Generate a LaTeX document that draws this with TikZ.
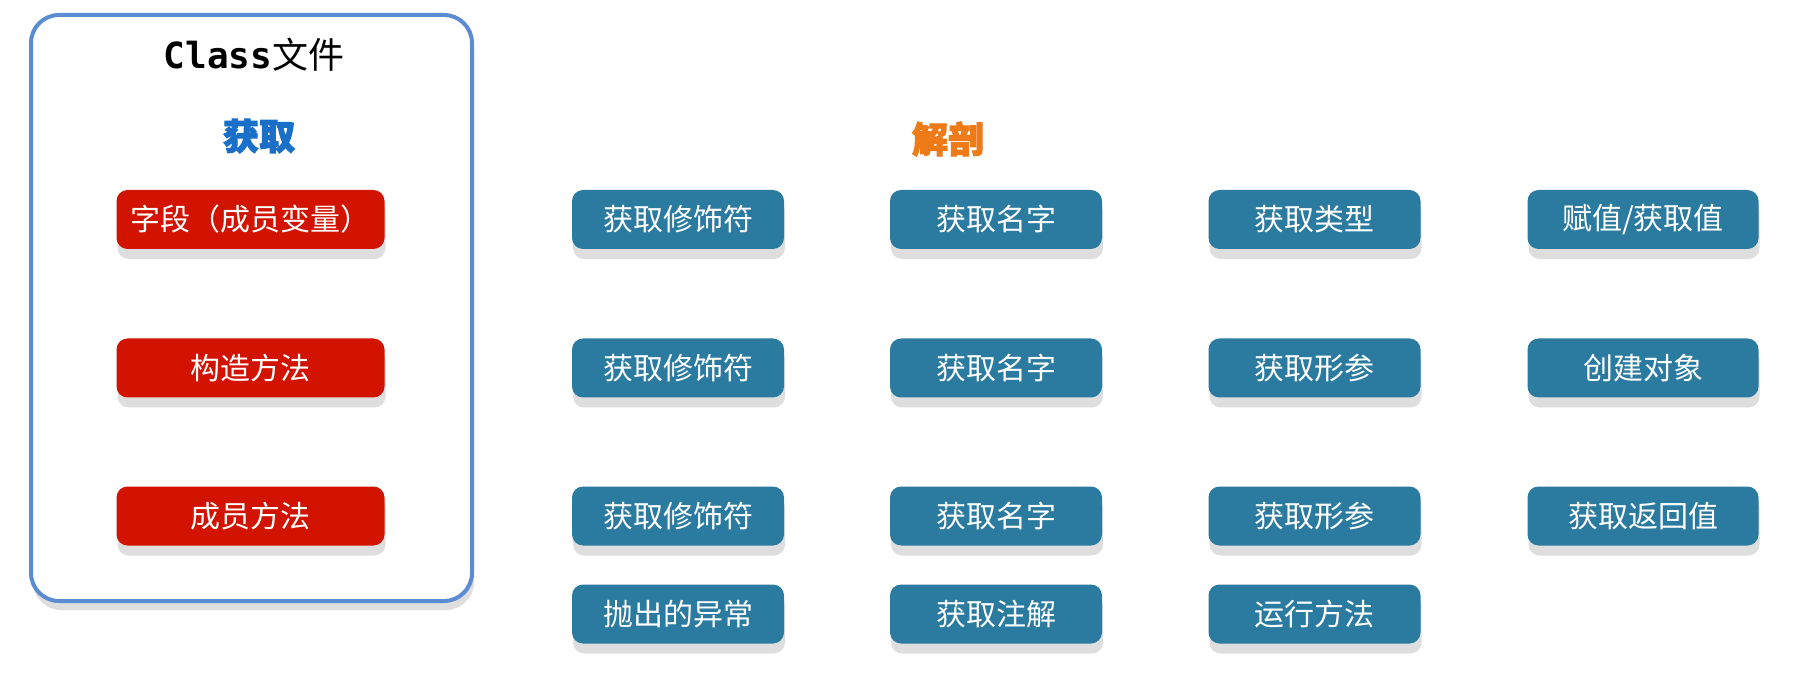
\documentclass[tikz,border=0pt]{standalone}
\usepackage{fontspec}
\newfontfamily\cjk{Noto Sans CJK SC}
\newfontfamily\cjkheavy{Noto Sans CJK SC}[BoldFeatures={FakeBold=3}]
\newfontfamily\monofont{DejaVu Sans Mono}
\usetikzlibrary{shadows}
\definecolor{btnred}{HTML}{D11300}
\definecolor{btnblue}{HTML}{2B7BA0}
\definecolor{boxblue}{HTML}{5B8CD2}
\definecolor{shadowgray}{HTML}{DEDEDE}
\definecolor{titleblue}{HTML}{1A6FC8}
\definecolor{titleorange}{HTML}{EE7A18}
\begin{document}
\begin{tikzpicture}[x=1pt,y=-1pt,
  btn/.style={rounded corners=11pt, minimum height=59pt, text=white,
    font=\cjk\fontsize{30}{34}\selectfont, inner sep=0pt,
    drop shadow={shadow xshift=1pt, shadow yshift=-10pt, fill=shadowgray, opacity=1}},
  redbtn/.style={btn, fill=btnred, minimum width=268pt},
  bluebtn/.style={btn, fill=btnblue, minimum width=212pt},
  widebtn/.style={bluebtn, minimum width=231pt},
  heading/.style={font=\cjkheavy\bfseries\fontsize{36}{40}\selectfont, inner sep=0pt}]
\useasboundingbox (0,0) rectangle (1813,692);
\fill[white] (0,0) rectangle (1813,692);

% outer Class box
\node[draw=boxblue, fill=white, line width=4pt, rounded corners=28pt,
  minimum width=441pt, minimum height=586pt, inner sep=0pt,
  drop shadow={shadow xshift=2pt, shadow yshift=-9pt, fill=shadowgray, opacity=1}] (classbox) at (251.5,308) {};

\node[inner sep=0pt] (classtitle) at (254,55) {\monofont\bfseries\fontsize{36}{40}\selectfont Class\cjk\mdseries 文件};
\node[heading, text=titleblue] (get) at (259,136) {获取};
\node[heading, text=titleorange] (dissect) at (948,139) {解剖};

% red buttons
\node[redbtn] (field) at (250.5,219.5) {字段（成员变量）};
\node[redbtn] (ctor) at (250.5,368) {构造方法};
\node[redbtn] (method) at (250.5,516) {成员方法};

% row 1
\node[bluebtn] (f1) at (678,219.5) {获取修饰符};
\node[bluebtn] (f2) at (996,219.5) {获取名字};
\node[bluebtn] (f3) at (1314.5,219.5) {获取类型};
\node[widebtn] (f4) at (1643,219.5) {赋值/获取值};
% row 2
\node[bluebtn] (c1) at (678,368) {获取修饰符};
\node[bluebtn] (c2) at (996,368) {获取名字};
\node[bluebtn] (c3) at (1314.5,368) {获取形参};
\node[widebtn] (c4) at (1643,368) {创建对象};
% row 3
\node[bluebtn] (m1) at (678,516) {获取修饰符};
\node[bluebtn] (m2) at (996,516) {获取名字};
\node[bluebtn] (m3) at (1314.5,516) {获取形参};
\node[widebtn] (m4) at (1643,516) {获取返回值};
% row 4
\node[bluebtn] (m5) at (678,614) {抛出的异常};
\node[bluebtn] (m6) at (996,614) {获取注解};
\node[bluebtn] (m7) at (1314.5,614) {运行方法};
\end{tikzpicture}
\end{document}
